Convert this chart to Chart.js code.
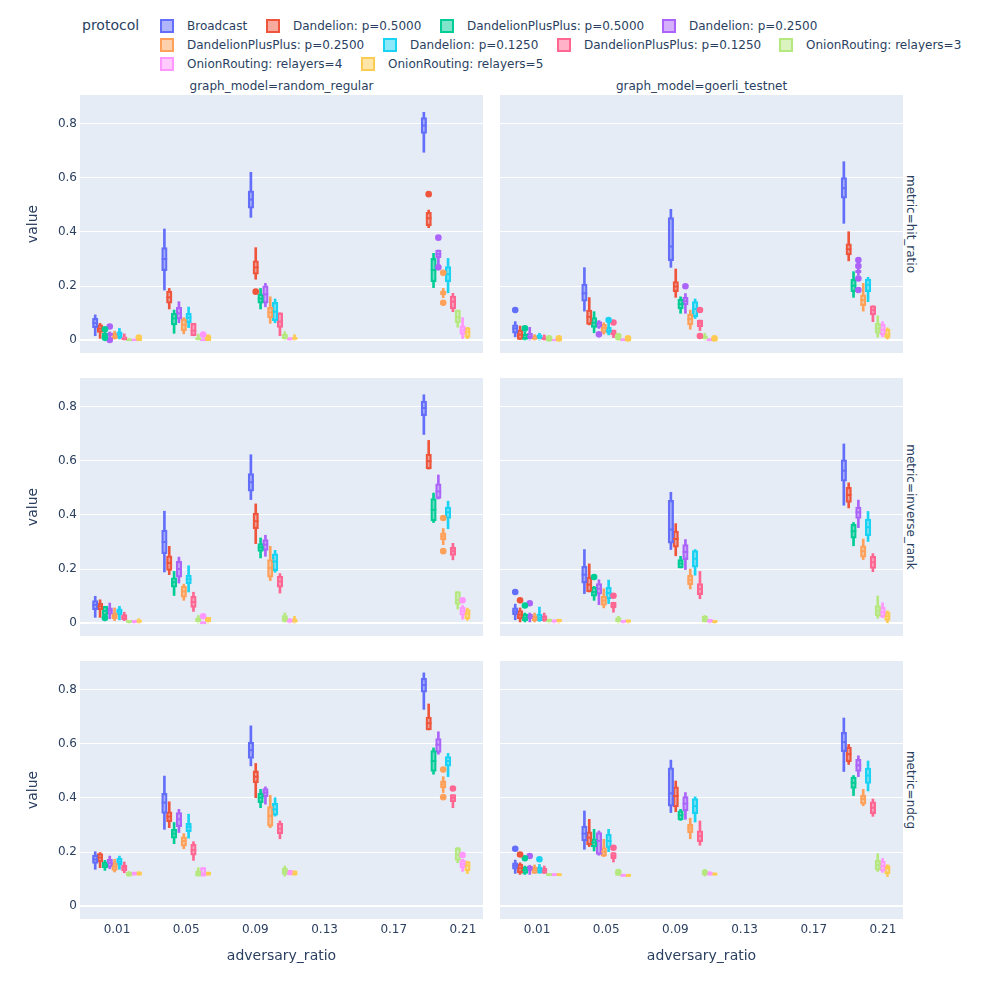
<!DOCTYPE html>
<html>
<head>
<meta charset="utf-8">
<script src="https://cdn.jsdelivr.net/npm/chart.js@4.4.1/dist/chart.umd.min.js"></script>
<style>
  html, body { margin: 0; padding: 0; background: #fff; }
  #root { position: relative; width: 1000px; height: 1000px; font-family: "DejaVu Sans", sans-serif; color: #2a3f5f; }
  .panel { position: absolute; }
  .t { position: absolute; white-space: nowrap; }
  .c { transform: translate(-50%, -50%); }
  .l { transform: translateY(-50%); }
  .rl { transform: translate(-50%, -50%) rotate(-90deg); }
  .rr { transform: translate(-50%, -50%) rotate(90deg); }
  .icon { position: absolute; width: 10px; height: 10px; border: 2px solid; transform: translateY(-50%); }
</style>
</head>
<body>
<div id="root"></div>
<script>
// ---------- data ----------
const xValues = [0.01, 0.05, 0.1, 0.2];
const xTicks = [0.01, 0.05, 0.09, 0.13, 0.17, 0.21];
const yTicks = [0, 0.2, 0.4, 0.6, 0.8];
const protocols = [
  "Broadcast", "Dandelion: p=0.5000", "DandelionPlusPlus: p=0.5000", "Dandelion: p=0.2500",
  "DandelionPlusPlus: p=0.2500", "Dandelion: p=0.1250", "DandelionPlusPlus: p=0.1250",
  "OnionRouting: relayers=3", "OnionRouting: relayers=4", "OnionRouting: relayers=5"
];
const colors = ["#636efa", "#EF553B", "#00cc96", "#ab63fa", "#FFA15A", "#19d3f3", "#FF6692", "#B6E880", "#FF97FF", "#FECB52"];
const graphModels = ["random_regular", "goerli_testnet"];
const metrics = ["hit_ratio", "inverse_rank", "ndcg"];

// each protocol: per x value [lowerFence, q1, median, q3, upperFence]
const hitRandom = [
  [[0.016,0.046,0.063,0.080,0.093],[0.185,0.257,0.300,0.342,0.411],[0.454,0.488,0.520,0.552,0.621],[0.695,0.765,0.794,0.823,0.843]],
  [[0.006,0.028,0.042,0.056,0.062],[0.115,0.136,0.158,0.181,0.191],[0.225,0.244,0.269,0.293,0.342],[0.416,0.423,0.451,0.473,0.481]],
  [[0.012,0.016,0.020,0.025,0.030],[0.025,0.056,0.080,0.099,0.111],[0.115,0.136,0.153,0.170,0.191],[0.194,0.216,0.259,0.302,0.321]],
  [[0.010,0.015,0.020,0.027,0.030],[0.064,0.077,0.099,0.121,0.142],[0.123,0.136,0.169,0.201,0.210],[0.280,0.305,0.318,0.333,0.333]],
  [[0.000,0.004,0.014,0.025,0.033],[0.023,0.035,0.056,0.078,0.083],[0.062,0.083,0.102,0.121,0.160],[0.157,0.167,0.174,0.181,0.191]],
  [[0.000,0.009,0.020,0.030,0.043],[0.046,0.064,0.083,0.099,0.122],[0.064,0.072,0.105,0.140,0.152],[0.175,0.216,0.244,0.272,0.302]],
  [[0.000,0.000,0.004,0.012,0.023],[0.016,0.016,0.035,0.062,0.062],[0.016,0.047,0.068,0.101,0.101],[0.105,0.115,0.142,0.163,0.173]],
  [[0.000,0.000,0.001,0.003,0.006],[0.000,0.000,0.004,0.009,0.022],[0.000,0.000,0.009,0.021,0.031],[0.047,0.064,0.085,0.111,0.111]],
  [[0.000,0.000,0.001,0.003,0.003],[0.000,0.000,0.002,0.004,0.004],[0.000,0.000,0.003,0.009,0.009],[0.005,0.021,0.036,0.053,0.083]],
  [[0.000,0.000,0.000,0.002,0.002],[0.000,0.000,0.000,0.002,0.002],[0.000,0.000,0.005,0.010,0.020],[0.005,0.010,0.030,0.045,0.047]]
];
const hitRandomOutliers = [[1,2,0.179],[1,3,0.540],[2,0,0.040],[2,0,0.008],[3,0,0.050],[3,0,0.000],[3,3,0.379],[3,3,0.269],[4,3,0.249],[4,3,0.138],[8,1,0.020],[9,0,0.009],[9,1,0.009]];

const hitGoerli = [
  [[0.012,0.025,0.043,0.056,0.068],[0.107,0.144,0.173,0.207,0.268],[0.269,0.294,0.346,0.453,0.484],[0.432,0.525,0.562,0.601,0.660]],
  [[0.000,0.002,0.020,0.037,0.052],[0.056,0.058,0.086,0.111,0.157],[0.158,0.179,0.198,0.216,0.263],[0.293,0.315,0.336,0.356,0.401]],
  [[0.000,0.000,0.005,0.021,0.030],[0.027,0.047,0.064,0.083,0.105],[0.099,0.115,0.133,0.151,0.160],[0.158,0.179,0.201,0.225,0.253]],
  [[0.000,0.000,0.012,0.025,0.047],[0.043,0.047,0.060,0.068,0.072],[0.099,0.130,0.144,0.158,0.172],[0.240,0.248,0.253,0.258,0.265]],
  [[0.000,0.000,0.005,0.015,0.020],[0.022,0.028,0.045,0.058,0.064],[0.040,0.056,0.078,0.096,0.111],[0.107,0.127,0.148,0.167,0.210]],
  [[0.000,0.000,0.010,0.019,0.025],[0.019,0.025,0.035,0.047,0.068],[0.080,0.086,0.115,0.142,0.152],[0.142,0.179,0.204,0.226,0.232]],
  [[0.000,0.000,0.004,0.010,0.019],[0.009,0.019,0.025,0.037,0.037],[0.035,0.049,0.062,0.074,0.074],[0.068,0.093,0.111,0.127,0.127]],
  [[0.000,0.000,0.000,0.002,0.002],[0.000,0.000,0.003,0.010,0.010],[0.000,0.000,0.008,0.016,0.025],[0.010,0.025,0.043,0.062,0.090]],
  [[0.000,0.000,0.000,0.002,0.002],[0.000,0.000,0.002,0.005,0.005],[0.000,0.000,0.002,0.005,0.005],[0.012,0.019,0.038,0.058,0.068]],
  [[0.000,0.000,0.000,0.002,0.002],[0.000,0.000,0.000,0.002,0.002],[0.000,0.000,0.000,0.002,0.002],[0.000,0.008,0.020,0.040,0.045]]
];
const hitGoerliOutliers = [[0,0,0.111],[2,0,0.043],[3,1,0.021],[3,2,0.199],[3,3,0.296],[3,3,0.274],[3,3,0.228],[3,3,0.185],[5,1,0.074],[6,1,0.065],[6,2,0.111],[6,2,0.015],[7,0,0.006],[7,1,0.015],[9,0,0.006],[9,1,0.006],[9,2,0.006]];

const invRandom = [
  [[0.021,0.049,0.067,0.083,0.099],[0.189,0.257,0.300,0.344,0.414],[0.457,0.488,0.521,0.553,0.623],[0.698,0.768,0.796,0.822,0.845]],
  [[0.021,0.049,0.062,0.074,0.086],[0.179,0.195,0.222,0.249,0.284],[0.294,0.349,0.377,0.407,0.441],[0.570,0.570,0.599,0.625,0.676]],
  [[0.028,0.028,0.045,0.062,0.062],[0.102,0.133,0.151,0.167,0.191],[0.241,0.265,0.280,0.294,0.315],[0.372,0.378,0.419,0.461,0.481]],
  [[0.016,0.033,0.046,0.056,0.074],[0.148,0.170,0.200,0.228,0.244],[0.247,0.269,0.290,0.309,0.325],[0.459,0.461,0.487,0.515,0.548]],
  [[0.009,0.016,0.026,0.037,0.056],[0.084,0.096,0.117,0.136,0.144],[0.157,0.170,0.204,0.235,0.284],[0.290,0.308,0.321,0.334,0.350]],
  [[0.012,0.031,0.043,0.053,0.062],[0.115,0.146,0.162,0.177,0.212],[0.188,0.194,0.228,0.256,0.269],[0.349,0.387,0.410,0.429,0.451]],
  [[0.009,0.012,0.021,0.031,0.040],[0.043,0.058,0.078,0.099,0.114],[0.111,0.133,0.154,0.173,0.183],[0.234,0.250,0.266,0.280,0.295]],
  [[0.000,0.000,0.004,0.010,0.010],[0.000,0.000,0.010,0.019,0.028],[0.000,0.006,0.016,0.028,0.037],[0.052,0.069,0.085,0.116,0.116]],
  [[0.000,0.000,0.004,0.010,0.010],[0.000,0.000,0.002,0.005,0.005],[0.000,0.000,0.006,0.016,0.016],[0.014,0.029,0.045,0.059,0.065]],
  [[0.000,0.000,0.005,0.012,0.016],[0.000,0.000,0.010,0.021,0.021],[0.000,0.000,0.006,0.016,0.025],[0.010,0.015,0.035,0.050,0.055]]
];
const invRandomOutliers = [[2,0,0.019],[4,3,0.389],[4,3,0.266],[8,1,0.025],[8,3,0.084]];

const invGoerli = [
  [[0.012,0.031,0.043,0.056,0.070],[0.109,0.148,0.179,0.210,0.272],[0.272,0.296,0.346,0.454,0.484],[0.436,0.525,0.564,0.604,0.663]],
  [[0.004,0.016,0.031,0.046,0.056],[0.115,0.115,0.142,0.170,0.219],[0.249,0.281,0.311,0.340,0.368],[0.426,0.446,0.474,0.502,0.519]],
  [[0.004,0.009,0.020,0.033,0.037],[0.084,0.099,0.115,0.133,0.136],[0.204,0.204,0.220,0.235,0.247],[0.286,0.314,0.340,0.365,0.372]],
  [[0.004,0.016,0.022,0.033,0.037],[0.068,0.107,0.127,0.146,0.160],[0.198,0.235,0.263,0.290,0.309],[0.353,0.387,0.410,0.429,0.455]],
  [[0.004,0.009,0.020,0.028,0.037],[0.056,0.065,0.083,0.099,0.127],[0.126,0.142,0.160,0.177,0.200],[0.235,0.244,0.266,0.286,0.311]],
  [[0.006,0.009,0.020,0.033,0.059],[0.072,0.089,0.111,0.132,0.159],[0.177,0.207,0.238,0.268,0.272],[0.302,0.323,0.355,0.385,0.413]],
  [[0.006,0.009,0.020,0.028,0.037],[0.040,0.056,0.066,0.077,0.077],[0.090,0.105,0.126,0.146,0.191],[0.190,0.202,0.225,0.247,0.257]],
  [[0.000,0.000,0.008,0.015,0.015],[0.000,0.000,0.010,0.020,0.025],[0.000,0.004,0.014,0.025,0.028],[0.018,0.027,0.046,0.065,0.100]],
  [[0.000,0.000,0.006,0.012,0.012],[0.000,0.000,0.005,0.010,0.010],[0.000,0.000,0.006,0.014,0.014],[0.020,0.023,0.040,0.059,0.075]],
  [[0.000,0.000,0.008,0.014,0.014],[0.000,0.000,0.006,0.012,0.012],[0.000,0.000,0.004,0.010,0.010],[0.001,0.010,0.025,0.040,0.045]]
];
const invGoerliOutliers = [[0,0,0.115],[1,0,0.084],[2,0,0.065],[2,1,0.170],[3,0,0.073],[6,1,0.101]];

const ndcgRandom = [
  [[0.136,0.158,0.173,0.189,0.201],[0.284,0.343,0.383,0.417,0.481],[0.519,0.546,0.577,0.607,0.667],[0.728,0.792,0.818,0.843,0.863]],
  [[0.142,0.163,0.179,0.194,0.198],[0.290,0.312,0.331,0.349,0.386],[0.401,0.457,0.479,0.500,0.528],[0.652,0.652,0.677,0.699,0.748]],
  [[0.132,0.142,0.154,0.163,0.169],[0.231,0.251,0.268,0.284,0.309],[0.364,0.383,0.401,0.417,0.432],[0.488,0.498,0.537,0.575,0.585]],
  [[0.138,0.144,0.160,0.173,0.185],[0.272,0.294,0.321,0.346,0.358],[0.377,0.404,0.420,0.435,0.441],[0.562,0.569,0.597,0.620,0.645]],
  [[0.126,0.132,0.146,0.160,0.173],[0.212,0.222,0.241,0.256,0.268],[0.290,0.296,0.333,0.368,0.410],[0.420,0.437,0.450,0.463,0.479]],
  [[0.136,0.152,0.164,0.177,0.185],[0.251,0.275,0.293,0.306,0.340],[0.333,0.336,0.358,0.380,0.401],[0.479,0.518,0.537,0.553,0.565]],
  [[0.123,0.130,0.142,0.152,0.163],[0.169,0.188,0.207,0.228,0.238],[0.249,0.268,0.286,0.306,0.315],[0.364,0.386,0.400,0.413,0.413]],
  [[0.111,0.111,0.117,0.126,0.128],[0.111,0.111,0.120,0.130,0.142],[0.111,0.117,0.128,0.140,0.148],[0.160,0.169,0.190,0.215,0.217]],
  [[0.114,0.114,0.120,0.126,0.126],[0.111,0.111,0.120,0.142,0.142],[0.115,0.115,0.123,0.132,0.132],[0.128,0.141,0.155,0.170,0.173]],
  [[0.114,0.114,0.120,0.127,0.127],[0.114,0.114,0.120,0.126,0.126],[0.114,0.114,0.120,0.130,0.130],[0.120,0.130,0.150,0.165,0.166]]
];
const ndcgRandomOutliers = [[4,3,0.505],[4,3,0.403],[6,3,0.435],[8,3,0.189]];

const ndcgGoerli = [
  [[0.121,0.136,0.149,0.160,0.170],[0.210,0.241,0.268,0.296,0.352],[0.346,0.370,0.417,0.512,0.540],[0.498,0.571,0.607,0.643,0.696]],
  [[0.117,0.123,0.140,0.154,0.160],[0.220,0.226,0.253,0.275,0.321],[0.349,0.367,0.407,0.441,0.463],[0.524,0.534,0.562,0.588,0.598]],
  [[0.117,0.121,0.133,0.144,0.148],[0.204,0.219,0.235,0.249,0.284],[0.317,0.319,0.336,0.352,0.358],[0.409,0.435,0.456,0.477,0.483]],
  [[0.117,0.130,0.138,0.148,0.151],[0.188,0.191,0.241,0.272,0.278],[0.321,0.352,0.379,0.405,0.420],[0.479,0.498,0.521,0.543,0.556]],
  [[0.121,0.121,0.133,0.144,0.152],[0.183,0.185,0.201,0.216,0.247],[0.249,0.272,0.288,0.302,0.325],[0.371,0.377,0.396,0.411,0.432]],
  [[0.121,0.123,0.133,0.144,0.154],[0.201,0.216,0.241,0.265,0.284],[0.311,0.342,0.370,0.398,0.404],[0.426,0.454,0.483,0.511,0.537]],
  [[0.121,0.121,0.131,0.140,0.148],[0.163,0.175,0.186,0.198,0.198],[0.225,0.238,0.259,0.278,0.315],[0.332,0.342,0.364,0.386,0.396]],
  [[0.112,0.112,0.116,0.120,0.120],[0.114,0.114,0.117,0.120,0.120],[0.111,0.115,0.123,0.132,0.136],[0.128,0.134,0.151,0.169,0.194]],
  [[0.112,0.112,0.116,0.120,0.120],[0.110,0.110,0.114,0.118,0.118],[0.114,0.114,0.120,0.127,0.127],[0.125,0.130,0.148,0.166,0.176]],
  [[0.112,0.112,0.116,0.120,0.120],[0.110,0.110,0.113,0.116,0.116],[0.114,0.114,0.118,0.123,0.123],[0.109,0.120,0.140,0.150,0.153]]
];
const ndcgGoerliOutliers = [[0,0,0.212],[1,0,0.191],[2,0,0.177],[3,0,0.185],[5,0,0.173],[6,1,0.216],[7,1,0.126]];

// ---------- layout ----------
const SLOT = 0.0028;      // x offset between grouped boxes (data units)
const Y_MIN = -0.048, Y_MAX = 0.907, X_MIN = -0.0114, X_MAX = 0.2216;
const FONT = "DejaVu Sans";
const TXT = "#2a3f5f";

const panelDefs = [
  { stats: hitRandom,  outs: hitRandomOutliers,  left: 0,   top: 95,  col: 0, row: 0 },
  { stats: hitGoerli,  outs: hitGoerliOutliers,  left: 500, top: 95,  col: 1, row: 0 },
  { stats: invRandom,  outs: invRandomOutliers,  left: 0,   top: 378, col: 0, row: 1 },
  { stats: invGoerli,  outs: invGoerliOutliers,  left: 500, top: 378, col: 1, row: 1 },
  { stats: ndcgRandom, outs: ndcgRandomOutliers, left: 0,   top: 661, col: 0, row: 2 },
  { stats: ndcgGoerli, outs: ndcgGoerliOutliers, left: 500, top: 661, col: 1, row: 2 }
];

function rgba(hex, a) {
  const n = parseInt(hex.slice(1), 16);
  return `rgba(${(n >> 16) & 255},${(n >> 8) & 255},${n & 255},${a})`;
}

const bgPlugin = {
  id: 'plotBg',
  beforeDraw(chart) {
    const a = chart.chartArea; const ctx = chart.ctx;
    ctx.save(); ctx.fillStyle = '#E5ECF6';
    ctx.fillRect(a.left, a.top, a.right - a.left, a.bottom - a.top);
    ctx.restore();
  }
};

function buildDatasets(stats, outs) {
  const ds = [];
  stats.forEach((rows, i) => {
    const c = colors[i];
    const xs = xValues.map(x => x + (i - 4.5) * SLOT);
    ds.push({
      type: 'bar', grouped: false, barThickness: 2, backgroundColor: c, borderWidth: 0, order: 3,
      data: rows.flatMap((s, k) => [{ x: xs[k], y: [s[0], s[1]] }, { x: xs[k], y: [s[3], s[4]] }])
    });
    ds.push({
      type: 'bar', grouped: false, barThickness: 5.5, minBarLength: 2, order: 2,
      backgroundColor: rgba(c, 0.5), borderColor: c, borderWidth: 1.6, borderSkipped: false,
      data: rows.map((s, k) => ({ x: xs[k], y: [s[1], s[3]] }))
    });
    ds.push({
      type: 'scatter', pointStyle: 'line', pointRadius: 2.75, borderColor: c, borderWidth: 2, order: 1,
      data: rows.map((s, k) => ({ x: xs[k], y: s[2] }))
    });
    const o = outs.filter(p => p[0] === i).map(p => ({ x: xValues[p[1]] + (i - 4.5) * SLOT, y: p[2] }));
    if (o.length) ds.push({
      type: 'scatter', pointStyle: 'circle', pointRadius: 3.3, backgroundColor: c, borderWidth: 0, order: 0, data: o
    });
  });
  return ds;
}

const root = document.getElementById('root');

panelDefs.forEach(p => {
  const bottomRow = p.row === 2;
  const yW = p.col === 0 ? 80 : 0;
  const xH = bottomRow ? 40 : 0;
  const div = document.createElement('div');
  div.className = 'panel';
  div.style.left = p.left + 'px';
  div.style.top = p.top + 'px';
  div.style.width = (403 + yW) + 'px';
  div.style.height = (258 + xH) + 'px';
  const cv = document.createElement('canvas');
  div.appendChild(cv);
  root.appendChild(div);

  new Chart(cv, {
    type: 'bar',
    data: { datasets: buildDatasets(p.stats, p.outs) },
    options: {
      responsive: true, maintainAspectRatio: false, animation: false,
      layout: { padding: 0, autoPadding: false },
      plugins: { legend: { display: false }, tooltip: { enabled: false } },
      events: [],
      scales: {
        x: {
          type: 'linear', min: X_MIN, max: X_MAX, offset: false,
          display: bottomRow,
          grid: { display: false, drawTicks: false, offset: false },
          border: { display: false },
          ticks: { color: TXT, font: { family: FONT, size: 12 }, padding: 4, maxRotation: 0, autoSkip: false,
                   callback: v => String(v) },
          afterBuildTicks: s => { s.ticks = xTicks.map(v => ({ value: v })); },
          afterFit: s => { s.height = xH; s.paddingLeft = 0; s.paddingRight = 0; }
        },
        y: {
          type: 'linear', min: Y_MIN, max: Y_MAX, beginAtZero: false,
          grid: { color: '#ffffff', lineWidth: ctx => (ctx.tick && ctx.tick.value === 0 ? 2 : 1), drawTicks: false },
          border: { display: false },
          ticks: { display: p.col === 0, color: TXT, font: { family: FONT, size: 12 }, padding: 3,
                   callback: v => (v === 0 ? '0' : String(v)) },
          afterBuildTicks: s => { s.ticks = yTicks.map(v => ({ value: v })); },
          afterFit: s => { s.width = yW; s.paddingTop = 0; s.paddingBottom = 0; }
        }
      }
    },
    plugins: [bgPlugin]
  });
});

// ---------- text ----------
function addText(txt, x, y, cls, size) {
  const d = document.createElement('div');
  d.className = 't ' + cls;
  d.textContent = txt;
  d.style.left = x + 'px';
  d.style.top = y + 'px';
  d.style.fontSize = size + 'px';
  root.appendChild(d);
}

// facet titles
addText('graph_model=' + graphModels[0], 281.5, 86, 'c', 12);
addText('graph_model=' + graphModels[1], 701.5, 86, 'c', 12);
metrics.forEach((m, r) => {
  const cy = 224 + r * 283;
  addText('metric=' + m, 911, cy, 'rr', 12);
  addText('value', 32, cy, 'rl', 14);
});
addText('adversary_ratio', 281.5, 955, 'c', 14);
addText('adversary_ratio', 701.5, 955, 'c', 14);

// legend
addText('protocol', 82, 25, 'l', 14);
const legendRowY = [26, 45, 64];
const legendPos = [[0,160],[0,266],[0,440],[0,662],[1,160],[1,383],[1,557],[1,779],[2,160],[2,361]];
protocols.forEach((name, i) => {
  const [r, x] = legendPos[i];
  const y = legendRowY[r];
  const ic = document.createElement('div');
  ic.className = 'icon';
  ic.style.left = x + 'px';
  ic.style.top = y + 'px';
  ic.style.borderColor = colors[i];
  ic.style.background = rgba(colors[i], 0.5);
  root.appendChild(ic);
  addText(name, x + 27, y, 'l', 12);
});
</script>
</body>
</html>
